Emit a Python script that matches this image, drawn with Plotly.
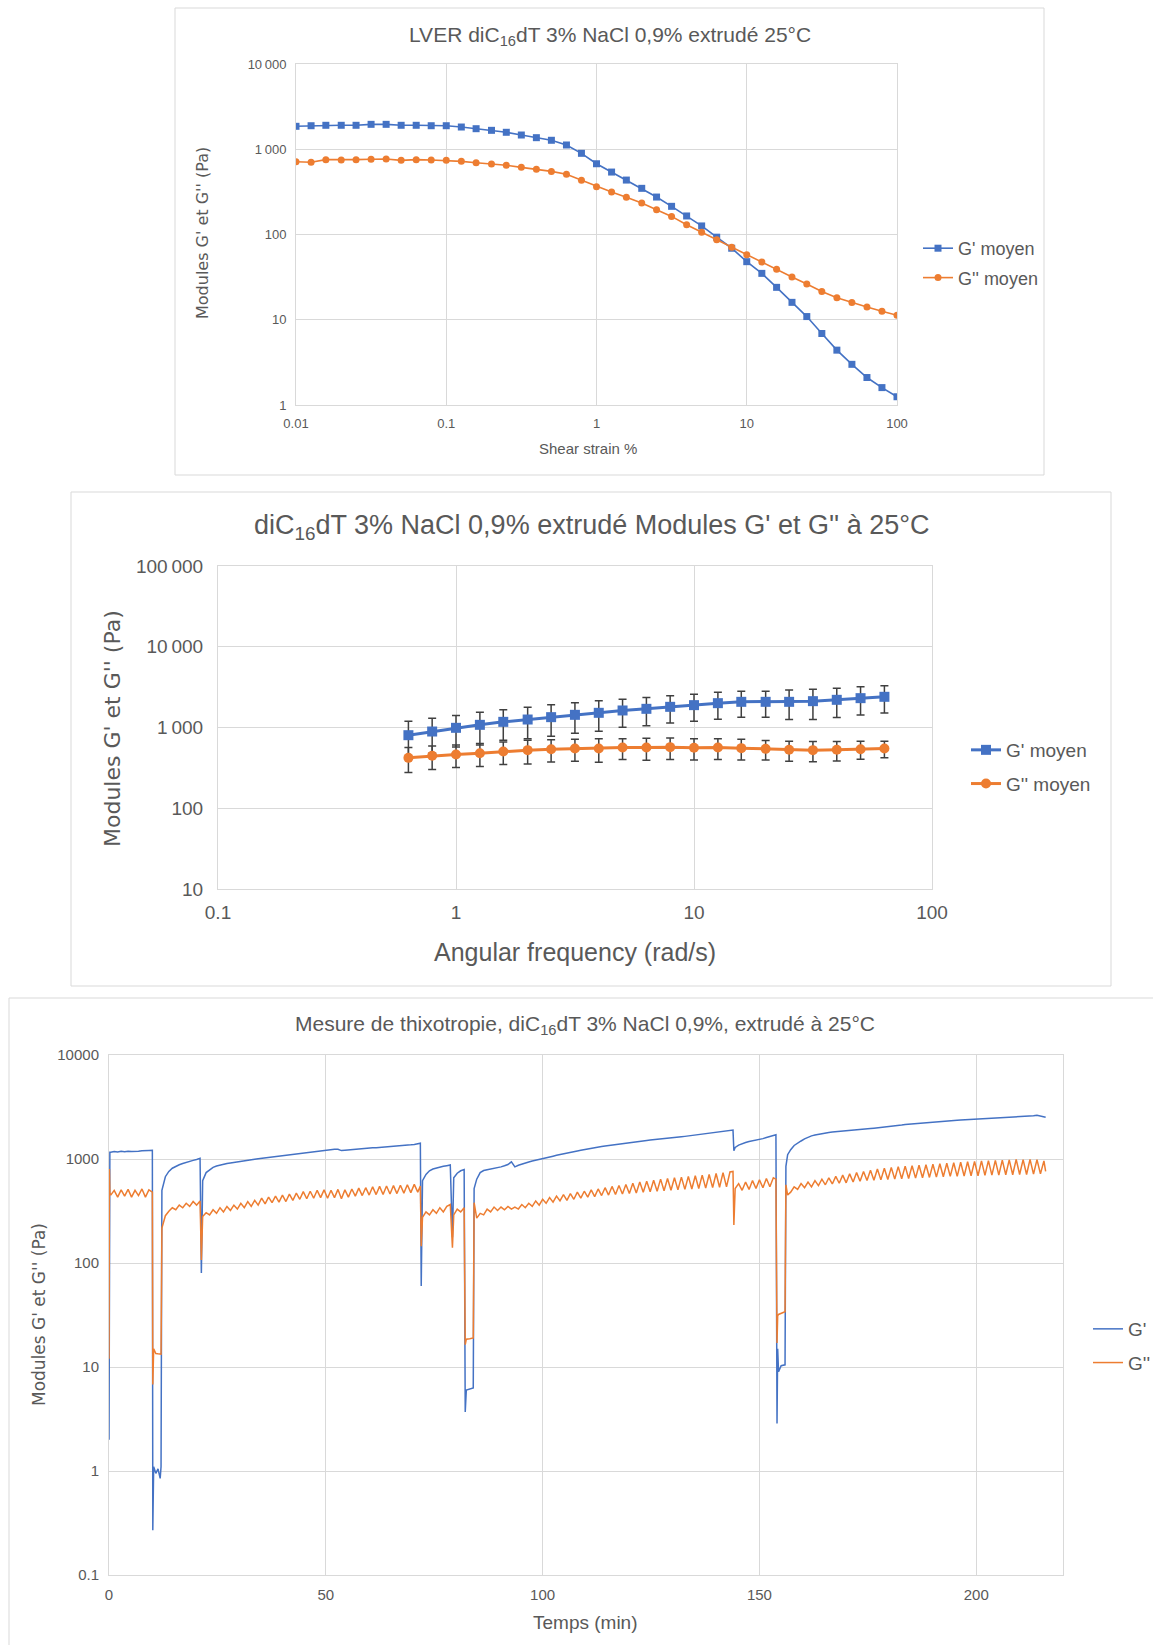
import plotly.graph_objects as go

W, H = 1153, 1645
BLUE = "#4472C4"
ORANGE = "#ED7D31"
GRID = "#D9D9D9"
TXT = "#595959"
NARROW = "Liberation Sans, Arial, sans-serif"
WIDE = "DejaVu Sans, Verdana, sans-serif"


def px(x):
    return x / W


def py(y):
    return 1 - y / H


# ---------------- Chart 1 : LVER (strain sweep) ----------------
strain_pct = [0.01, 0.0126, 0.0158, 0.02, 0.0251, 0.0316, 0.0398, 0.0501, 0.0631, 0.0794,
              0.1, 0.126, 0.158, 0.2, 0.251, 0.316, 0.398, 0.501, 0.631, 0.794,
              1, 1.26, 1.58, 2, 2.51, 3.16, 3.98, 5.01, 6.31, 7.94,
              10, 12.6, 15.8, 20, 25.1, 31.6, 39.8, 50.1, 63.1, 79.4, 100]
lver_gp = [1858, 1888, 1910, 1910, 1910, 1960, 1960, 1910, 1910, 1888,
           1888, 1823, 1742, 1667, 1581, 1469, 1367, 1274, 1122, 896,
           676, 540, 435, 348, 275, 214, 165, 126, 93, 69,
           48, 35, 24, 16, 10.9, 6.9, 4.4, 3.0, 2.1, 1.6, 1.25]
lver_gpp = [714, 703, 755, 748, 755, 762, 769, 741, 755, 748,
            741, 721, 695, 671, 648, 613, 581, 550, 508, 432,
            364, 315, 273, 234, 195, 163, 130, 106, 87, 71,
            58, 47.5, 39, 31.7, 26.2, 21.5, 18.1, 15.9, 14.1, 12.6, 11.3]
lver_xticks = [0.01, 0.1, 1, 10, 100]
lver_xtext = ["0.01", "0.1", "1", "10", "100"]
lver_yticks = [1, 10, 100, 1000, 10000]
lver_ytext = ["1", "10", "100", "1\u202f000", "10\u202f000"]

# ---------------- Chart 2 : frequency sweep ----------------
freq = [0.631, 0.794, 1, 1.26, 1.58, 2, 2.51, 3.16, 3.98, 5.01,
        6.31, 7.94, 10, 12.6, 15.8, 20, 25.1, 31.6, 39.8, 50.1, 63.1]
freq_gp = [803, 892, 991, 1079, 1175, 1256, 1343, 1435, 1520, 1625,
           1703, 1803, 1892, 2002, 2079, 2079, 2079, 2119, 2202, 2309, 2399]
freq_gp_err = [395, 413, 417, 470, 480, 530, 566, 587, 620, 619,
               651, 664, 696, 738, 741, 741, 827, 866, 869, 882, 883]
freq_gpp = [421, 446, 463, 481, 505, 524, 539, 549, 549, 565,
            565, 571, 560, 565, 555, 544, 529, 524, 529, 539, 549]
freq_gpp_err = [144, 144, 144, 152, 157, 170, 164, 167, 178, 163,
                171, 170, 165, 163, 159, 148, 148, 148, 144, 135, 128]
freq_xticks = [0.1, 1, 10, 100]
freq_xtext = ["0.1", "1", "10", "100"]
freq_yticks = [10, 100, 1000, 10000, 100000]
freq_ytext = ["10", "100", "1\u202f000", "10\u202f000", "100\u202f000"]

# ---------------- Chart 3 : thixotropy (time sweep) ----------------
STEP = 0.8  # sampling interval (min) of the regular recording segments

# explicit-time points (start / breakdown / transitions)
thx_t_e0 = [0.0, 0.1, 0.2]
thx_gp_e0 = [2.0, 1150, 1160]
thx_gpp_e0 = [12, 800, 470]

thx_t0_r1 = 0.4
thx_gp_r1 = [1160, 1180, 1170, 1185, 1175, 1190, 1180, 1195, 1190, 1200, 1195, 1210, 1215]
thx_gpp_r1 = [450, 500, 430, 505, 440, 510, 430, 500, 445, 515, 430, 505, 480]

thx_t_e1 = [10.1, 10.3, 10.8, 11.3, 11.8, 12.0]
thx_gp_e1 = [0.27, 1.1, 0.95, 1.05, 0.85, 1.1]
thx_gpp_e1 = [6.8, 15, 13.5, 13.4, 13.3, 13.3]

thx_t0_r2 = 12.2
thx_gp_r2 = [500, 676, 760, 815, 850, 880, 905, 930, 950, 970, 990, 1015]
thx_gpp_r2 = [217, 285, 315, 340, 325, 360, 340, 375, 350, 390, 360, 395]

thx_t_e2 = [21.3]
thx_gp_e2 = [80]
thx_gpp_e2 = [107]

thx_t0_r3 = 21.6
thx_gp_r3 = [620, 740, 790, 830, 855, 875, 892, 905, 915, 928,
             940, 952, 962, 975, 985, 995, 1005, 1015, 1028, 1038,
             1050, 1060, 1070, 1080, 1090, 1100, 1110, 1120, 1132, 1145,
             1157, 1168, 1180, 1192, 1205, 1215, 1225, 1232, 1238, 1240,
             1205, 1215, 1225, 1235, 1243, 1250, 1258, 1266, 1273, 1280,
             1286, 1292, 1298, 1305, 1312, 1320, 1328, 1336, 1345, 1355,
             1368, 1382, 1400]
thx_gpp_r3 = [280, 305, 290, 325, 300, 340, 310, 350, 320, 360,
              330, 375, 340, 390, 350, 400, 360, 420, 370, 430,
              380, 440, 385, 450, 390, 460, 400, 470, 410, 485,
              415, 490, 420, 500, 425, 505, 420, 500, 425, 510,
              415, 505, 430, 515, 440, 525, 445, 530, 450, 540,
              455, 545, 455, 550, 460, 555, 465, 560, 470, 565,
              475, 570, 480]

thx_t_e3 = [71.8, 72.0]
thx_gp_e3 = [1420, 60]
thx_gpp_e3 = [550, 145]

thx_t0_r4 = 72.3
thx_gp_r4 = [620, 710, 770, 800, 820, 835, 850, 862, 875]
thx_gpp_r4 = [275, 310, 290, 325, 300, 340, 310, 350, 365]

thx_t_e4 = [79.2]
thx_gp_e4 = [177]
thx_gpp_e4 = [140]

thx_t0_r5 = 79.5
thx_gp_r5 = [660, 730, 770, 790]
thx_gpp_r5 = [290, 330, 310, 340]

thx_t_e5 = [82.15, 82.4, 83.2, 84.0, 84.2]
thx_gp_e5 = [3.7, 6.0, 6.1, 6.3, 520]
thx_gpp_e5 = [16.4, 18.5, 18.7, 19.0, 380]

thx_t0_r6 = 84.8
thx_gp_r6 = [640, 740, 775, 790, 800, 810, 820, 840, 860, 885,
             940, 840, 870, 895, 915, 935, 955, 970, 990, 1010,
             1030, 1045, 1065, 1085, 1100, 1120, 1140, 1160, 1175, 1195,
             1215, 1235, 1255, 1270, 1290, 1305, 1320, 1335, 1350, 1370,
             1385, 1400, 1415, 1430, 1445, 1460, 1475, 1490, 1500, 1510,
             1520, 1535, 1545, 1555, 1568, 1580, 1590, 1605, 1620, 1635,
             1650, 1665, 1680, 1695, 1710, 1725, 1740, 1760, 1775, 1790,
             1810, 1830, 1850, 1870]
thx_gpp_r6 = [270, 300, 290, 330, 310, 345, 320, 345, 325, 350,
              330, 345, 330, 365, 340, 375, 350, 395, 360, 410,
              375, 425, 385, 440, 395, 455, 400, 465, 410, 480,
              420, 490, 430, 505, 435, 515, 445, 530, 450, 545,
              455, 555, 460, 570, 465, 585, 470, 600, 480, 610,
              485, 625, 490, 640, 495, 650, 500, 660, 505, 670,
              510, 680, 515, 690, 520, 700, 525, 710, 530, 725,
              535, 740, 540, 750]

thx_t_e6 = [143.9, 144.1]
thx_gp_e6 = [1900, 1200]
thx_gpp_e6 = [760, 232]

thx_t0_r7 = 144.4
thx_gp_r7 = [1290, 1360, 1410, 1440, 1470, 1490, 1510, 1540, 1570, 1610, 1650, 1690]
thx_gpp_r7 = [520, 580, 500, 600, 510, 620, 520, 630, 530, 650, 540, 660]

thx_t_e7 = [153.8, 154.05, 154.2, 154.4, 155.0, 155.9, 156.1, 156.5]
thx_gp_e7 = [1710, 2.86, 15, 9.0, 10.3, 10.5, 850, 1100]
thx_gpp_e7 = [640, 17, 31, 32, 33, 34, 565, 450]

thx_t0_r8 = 157.2
thx_gp_r8 = [1230, 1350, 1430, 1490, 1560, 1620, 1670, 1700, 1730, 1750,
             1775, 1800, 1820, 1835, 1850, 1865, 1875, 1890, 1900, 1910,
             1920, 1930, 1945, 1960, 1975, 1990, 2005, 2020, 2040, 2060,
             2080, 2100, 2125, 2150, 2165, 2180, 2195, 2210, 2225, 2240,
             2255, 2270, 2285, 2300, 2315, 2325, 2335, 2345, 2355, 2365,
             2375, 2385, 2395, 2405, 2415, 2425, 2435, 2445, 2455, 2465,
             2475, 2485, 2495, 2500, 2510, 2520, 2530, 2545, 2560, 2575,
             2600, 2640, 2580, 2530]
thx_gpp_r8 = [480, 540, 510, 580, 530, 600, 540, 620, 555, 640,
              565, 660, 575, 680, 585, 700, 590, 720, 600, 740,
              610, 760, 620, 780, 625, 800, 630, 815, 635, 830,
              640, 845, 645, 855, 650, 860, 655, 870, 660, 880,
              665, 890, 670, 900, 675, 910, 680, 920, 680, 930,
              685, 940, 690, 950, 690, 960, 695, 965, 700, 970,
              700, 975, 705, 980, 705, 990, 710, 985, 710, 990,
              715, 985, 720, 960]

thx_t_e8 = [216.0]
thx_gp_e8 = [2520]
thx_gpp_e8 = [760]

thx_xticks = [0, 50, 100, 150, 200]
thx_yticks = [0.1, 1, 10, 100, 1000, 10000]
thx_ytext = ["0.1", "1", "10", "100", "1000", "10000"]


def sampled(t0, vals):
    return [round(t0 + STEP * i, 3) for i in range(len(vals))]


explicit = [(thx_t_e0, thx_gp_e0, thx_gpp_e0), (thx_t_e1, thx_gp_e1, thx_gpp_e1),
            (thx_t_e2, thx_gp_e2, thx_gpp_e2), (thx_t_e3, thx_gp_e3, thx_gpp_e3),
            (thx_t_e4, thx_gp_e4, thx_gpp_e4), (thx_t_e5, thx_gp_e5, thx_gpp_e5),
            (thx_t_e6, thx_gp_e6, thx_gpp_e6), (thx_t_e7, thx_gp_e7, thx_gpp_e7),
            (thx_t_e8, thx_gp_e8, thx_gpp_e8)]
regular = [(thx_t0_r1, thx_gp_r1, thx_gpp_r1), (thx_t0_r2, thx_gp_r2, thx_gpp_r2),
           (thx_t0_r3, thx_gp_r3, thx_gpp_r3), (thx_t0_r4, thx_gp_r4, thx_gpp_r4),
           (thx_t0_r5, thx_gp_r5, thx_gpp_r5), (thx_t0_r6, thx_gp_r6, thx_gpp_r6),
           (thx_t0_r7, thx_gp_r7, thx_gpp_r7), (thx_t0_r8, thx_gp_r8, thx_gpp_r8)]

pts_gp, pts_gpp = [], []
for t, a, b in explicit:
    pts_gp += list(zip(t, a))
    pts_gpp += list(zip(t, b))
for t0, a, b in regular:
    pts_gp += list(zip(sampled(t0, a), a))
    pts_gpp += list(zip(sampled(t0, b), b))
pts_gp.sort()
pts_gpp.sort()
thx_t_gp = [p[0] for p in pts_gp]
thx_gp = [p[1] for p in pts_gp]
thx_t_gpp = [p[0] for p in pts_gpp]
thx_gpp = [p[1] for p in pts_gpp]

# ---------------- Figure ----------------
fig = go.Figure()

fig.add_trace(go.Scatter(x=strain_pct, y=lver_gp, mode="lines+markers", name="G' moyen",
                         line=dict(color=BLUE, width=1.6),
                         marker=dict(symbol="square", size=7, color=BLUE),
                         xaxis="x", yaxis="y", legend="legend", legendgroup="a"))
fig.add_trace(go.Scatter(x=strain_pct, y=lver_gpp, mode="lines+markers", name="G'' moyen",
                         line=dict(color=ORANGE, width=1.6),
                         marker=dict(symbol="circle", size=7, color=ORANGE),
                         xaxis="x", yaxis="y", legend="legend", legendgroup="b"))

fig.add_trace(go.Scatter(x=freq, y=freq_gp, mode="lines+markers", name="G' moyen",
                         line=dict(color=BLUE, width=3),
                         marker=dict(symbol="square", size=10, color=BLUE),
                         error_y=dict(type="data", array=freq_gp_err, symmetric=True,
                                      color="#404040", thickness=1.5, width=4),
                         xaxis="x2", yaxis="y2", legend="legend2", legendgroup="c"))
fig.add_trace(go.Scatter(x=freq, y=freq_gpp, mode="lines+markers", name="G'' moyen",
                         line=dict(color=ORANGE, width=3),
                         marker=dict(symbol="circle", size=10, color=ORANGE),
                         error_y=dict(type="data", array=freq_gpp_err, symmetric=True,
                                      color="#404040", thickness=1.5, width=4),
                         xaxis="x2", yaxis="y2", legend="legend2", legendgroup="d"))

fig.add_trace(go.Scatter(x=thx_t_gp, y=thx_gp, mode="lines", name="G'",
                         line=dict(color=BLUE, width=1.5),
                         xaxis="x3", yaxis="y3", legend="legend3", legendgroup="e"))
fig.add_trace(go.Scatter(x=thx_t_gpp, y=thx_gpp, mode="lines", name="G''",
                         line=dict(color=ORANGE, width=1.5),
                         xaxis="x3", yaxis="y3", legend="legend3", legendgroup="f"))


def axis(domain, anchor, size, **kw):
    d = dict(domain=domain, anchor=anchor, showgrid=True, gridcolor=GRID, gridwidth=1,
             showline=True, linecolor=GRID, linewidth=1, mirror=True, zeroline=False,
             automargin=False,
             ticks="", tickfont=dict(family=NARROW, size=size, color=TXT))
    d.update(kw)
    return d


shapes = [
    dict(type="rect", xref="paper", yref="paper", x0=px(175), x1=px(1044), y0=py(475), y1=py(8),
         line=dict(color=GRID, width=1)),
    dict(type="rect", xref="paper", yref="paper", x0=px(71), x1=px(1111), y0=py(986), y1=py(492),
         line=dict(color=GRID, width=1)),
    dict(type="line", xref="paper", yref="paper", x0=px(9), x1=1, y0=py(998), y1=py(998),
         line=dict(color=GRID, width=1)),
    dict(type="line", xref="paper", yref="paper", x0=px(9), x1=px(9), y0=0, y1=py(998),
         line=dict(color=GRID, width=1)),
]


def ann(text, x, y, size, family=NARROW, angle=0):
    return dict(text=text, x=px(x), y=py(y), xref="paper", yref="paper", showarrow=False,
                xanchor="center", yanchor="middle", textangle=angle,
                font=dict(family=family, size=size, color=TXT))


annotations = [
    ann("LVER diC<sub>16</sub>dT 3% NaCl 0,9% extrudé 25°C", 610, 36, 21),
    ann("Shear strain %", 588, 449, 15),
    ann("Modules G' et G'' (Pa)", 202, 233, 16, WIDE, -90),
    ann("diC<sub>16</sub>dT 3% NaCl 0,9% extrudé Modules G' et G'' à 25°C", 592, 527, 27),
    ann("Angular frequency (rad/s)", 575, 952, 25),
    ann("Modules G' et G'' (Pa)", 112, 729, 22, WIDE, -90),
    ann("Mesure de thixotropie, diC<sub>16</sub>dT 3% NaCl 0,9%, extrudé à 25°C", 585, 1025, 21),
    ann("Temps (min)", 585, 1622, 19),
    ann("Modules G' et G'' (Pa)", 39, 1315, 17, WIDE, -90),
]

fig.update_layout(
    width=W, height=H, margin=dict(l=0, r=0, t=0, b=0, pad=0, autoexpand=False),
    paper_bgcolor="white", plot_bgcolor="white",
    xaxis=axis([px(296), px(897)], "y", 13, type="log", range=[-2, 2],
               tickvals=lver_xticks, ticktext=lver_xtext, ticklabelstandoff=6),
    yaxis=axis([py(405), py(64)], "x", 13, type="log", range=[0, 4],
               tickvals=lver_yticks, ticktext=lver_ytext, ticklabelstandoff=6),
    xaxis2=axis([px(218), px(932)], "y2", 19, type="log", range=[-1, 2],
                tickvals=freq_xticks, ticktext=freq_xtext, ticklabelstandoff=6),
    yaxis2=axis([py(889), py(566)], "x2", 19, type="log", range=[1, 5],
                tickvals=freq_yticks, ticktext=freq_ytext, ticklabelstandoff=10),
    xaxis3=axis([px(109), px(1063)], "y3", 15, range=[0, 220],
                tickvals=thx_xticks, ticklabelstandoff=6),
    yaxis3=axis([py(1575), py(1055)], "x3", 15, type="log", range=[-1, 4],
                tickvals=thx_yticks, ticktext=thx_ytext, ticklabelstandoff=6),
    legend=dict(x=px(918), y=py(230), xanchor="left", yanchor="top", tracegroupgap=3,
                font=dict(family=NARROW, size=18, color=TXT), bgcolor="rgba(0,0,0,0)"),
    legend2=dict(x=px(966), y=py(731), xanchor="left", yanchor="top", tracegroupgap=6,
                 font=dict(family=NARROW, size=19, color=TXT), bgcolor="rgba(0,0,0,0)"),
    legend3=dict(x=px(1088), y=py(1310), xanchor="left", yanchor="top", tracegroupgap=6,
                 font=dict(family=NARROW, size=19, color=TXT), bgcolor="rgba(0,0,0,0)"),
    shapes=shapes,
    annotations=annotations,
    showlegend=True,
)

fig.write_html("out.html",
               config={"displayModeBar": False},
               post_script="document.body.style.margin='0';document.body.style.overflow='hidden';")
